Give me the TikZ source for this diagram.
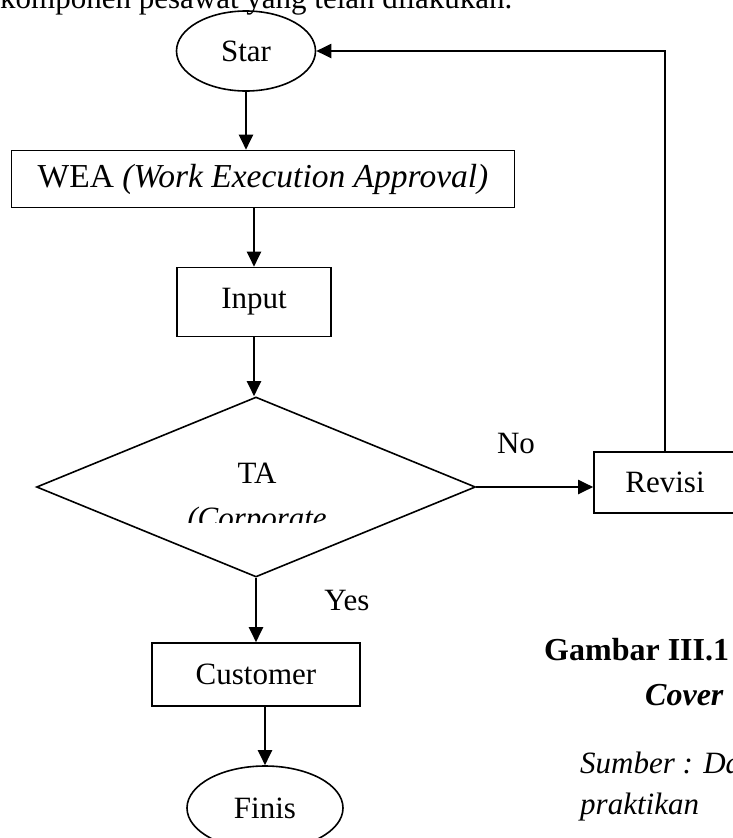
\documentclass[tikz,border=0pt]{standalone}
\usepackage{fontspec}
\setmainfont{Liberation Serif}
\usetikzlibrary{shapes.geometric,arrows.meta,positioning}

\begin{document}
\begin{tikzpicture}[
    x=1pt, y=-1pt,
    font=\fontsize{31}{36}\selectfont,
    box/.style={rectangle, draw, line width=1.6pt, inner sep=0pt},
    term/.style={ellipse, draw, line width=1.6pt, inner sep=0pt},
    decision/.style={diamond, draw, line width=1.6pt, inner sep=0pt},
    lbl/.style={inner sep=0pt},
    arrow/.style={-{Triangle[length=15pt,width=14pt]}, line width=2pt}
]
\useasboundingbox (0,0) rectangle (733,838);
\node[lbl, anchor=base west] (intro) at (0,8) {komponen pesawat yang telah dilakukan.};

\node[term, minimum width=139pt, minimum height=80pt] (star) at (246,51) {Star};
\node[box, minimum width=503pt, minimum height=57pt, font=\fontsize{33.5}{38}\selectfont] (wea) at (263,179) {WEA \textit{(Work Execution Approval)}};
\node[box, minimum width=154pt, minimum height=69pt] (input) at (254,302) {Input};
\node[decision, minimum width=439pt, minimum height=180pt] (dec) at (256,487) {};
\node[lbl, anchor=base] (ta) at (257,483) {TA};
\begin{scope}
  \clip (100,440) rectangle (420,522);
  \node[lbl, anchor=base] (corp) at (257,528) {\textit{(Corporate}};
\end{scope}
\node[box, minimum width=142pt, minimum height=61pt] (revisi) at (665,482.5) {Revisi};
\node[box, minimum width=208pt, minimum height=63pt] (cust) at (256,674.5) {Customer};
\node[term, minimum width=156pt, minimum height=84pt] (finis) at (265,808) {Finis};

\node[lbl] (no) at (516,443) {No};
\node[lbl] (yes) at (347,600) {Yes};

% keterangan gambar
\node[lbl, anchor=west, font=\fontsize{32}{38}\selectfont\bfseries] (cap1) at (544,650) {Gambar III.1};
\node[lbl, anchor=west, font=\fontsize{32}{38}\selectfont\bfseries\itshape] (cap2) at (645,695) {Cover};
\node[lbl, anchor=west, font=\fontsize{31}{36}\selectfont\itshape] (src1) at (580,763) {Sumber : Data};
\node[lbl, anchor=west, font=\fontsize{31}{36}\selectfont\itshape] (src2) at (580,807) {praktikan};

\draw[arrow] (star) -- (star |- wea.north);
\draw[arrow] (input |- wea.south) -- (input);
\draw[arrow] (input) -- (input |- dec.north);
\draw[arrow] (dec.east) -- (dec.east -| revisi.west);
\draw[arrow] (dec.south) -- (dec.south |- cust.north);
\draw[arrow] (cust.south -| finis) -- (finis);
\draw[arrow] (revisi.north) |- (star.east);
\end{tikzpicture}
\end{document}
